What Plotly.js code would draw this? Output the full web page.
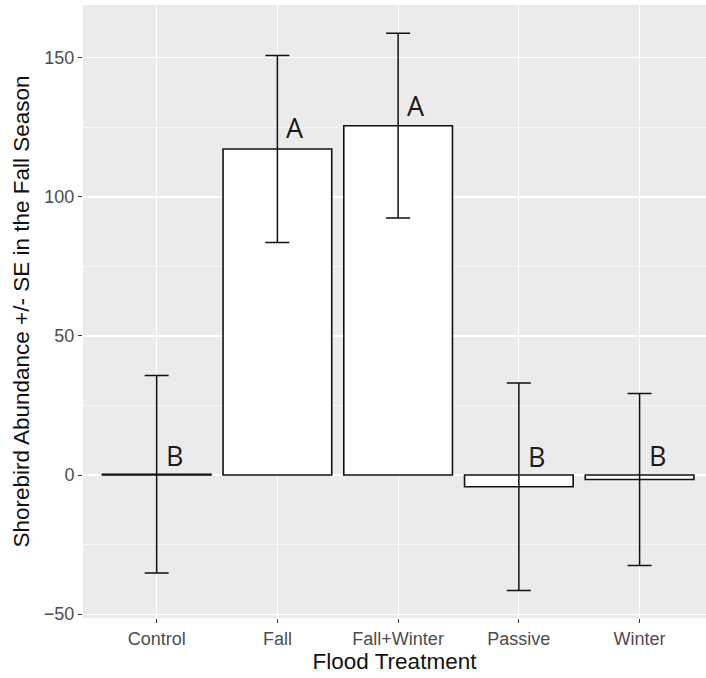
<!DOCTYPE html>
<html>
<head>
<meta charset="utf-8">
<script src="https://cdn.plot.ly/plotly-3.0.1.min.js"></script>
<style>html,body{margin:0;padding:0;background:#fff;}#chart{width:706px;height:678px;}</style>
</head>
<body>
<div id="chart"></div>
<script>
// Data
const treatments = ["Control", "Fall", "Fall+Winter", "Passive", "Winter"];
const meanAbundance = [0.3, 117.2, 125.6, -4.2, -1.6];
const seAbundance = [35.5, 33.6, 33.2, 37.3, 30.9];
const groupLetters = ["B", "A", "A", "B", "B"];
const letterY = [7, 125, 132.7, 6.5, 6.9];

const bars = {
  type: "bar",
  x: treatments,
  y: meanAbundance,
  width: 0.9,
  marker: { color: "#ffffff", line: { color: "#111111", width: 1.6 } },
  error_y: { type: "data", array: seAbundance, visible: true, color: "#111111", thickness: 1.5, width: 12 },
  hoverinfo: "x+y",
  showlegend: false
};

const annotations = groupLetters.map((t, i) => ({
  x: i, y: letterY[i], xref: "x", yref: "y",
  text: t, showarrow: false, xshift: 18,
  font: { family: "Open Sans, DejaVu Sans, sans-serif", size: 27, color: "#1a1a1a" }
}));

const layout = {
  width: 706, height: 678,
  margin: { l: 83, r: 0, t: 5, b: 60 },
  paper_bgcolor: "#ffffff",
  plot_bgcolor: "#EBEBEB",
  bargap: 0.1,
  font: { family: "Liberation Sans, Arial, sans-serif" },
  xaxis: {
    type: "category",
    range: [-0.61, 4.55],
    showgrid: true, gridcolor: "#ffffff", gridwidth: 1.2,
    zeroline: false, showline: false,
    ticks: "outside", ticklen: 4, tickcolor: "#333333", tickwidth: 1,
    tickfont: { size: 18, color: "#4d4d4d" },
    title: { text: "Flood Treatment", font: { size: 22.5, color: "#111111" }, standoff: 4 }
  },
  yaxis: {
    range: [-51.4, 169],
    tickvals: [-50, 0, 50, 100, 150],
    showgrid: true, gridcolor: "#ffffff", gridwidth: 1.2,
    minor: { tickvals: [-25, 25, 75, 125], showgrid: true, gridcolor: "#ffffff", gridwidth: 0.6, ticks: "" },
    zeroline: false, showline: false,
    ticks: "outside", ticklen: 4, tickcolor: "#333333", tickwidth: 1,
    tickfont: { size: 18, color: "#4d4d4d" },
    title: { text: "Shorebird Abundance +/- SE in the Fall Season", font: { size: 22.5, color: "#111111" }, standoff: 7 }
  },
  annotations: annotations
};

Plotly.newPlot("chart", [bars], layout, { displayModeBar: false, staticPlot: true });
</script>
</body>
</html>
